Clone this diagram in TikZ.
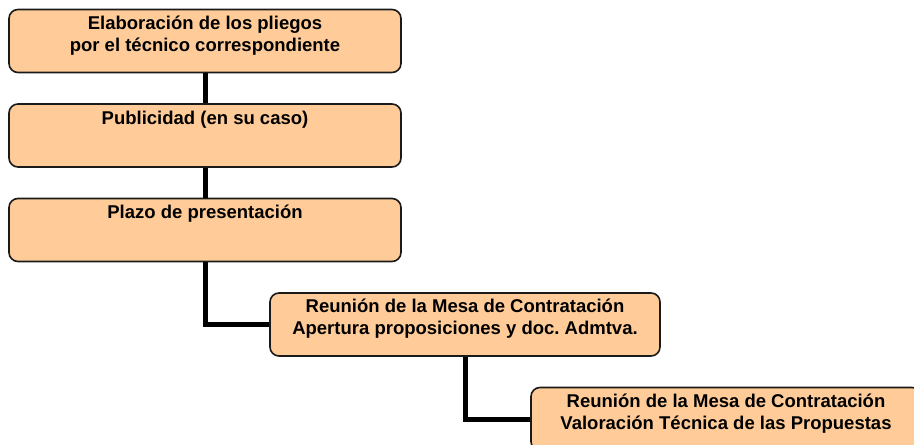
\documentclass[tikz,border=0pt]{standalone}
\usepackage{fontspec}
\setmainfont{Liberation Sans}
\frenchspacing
\definecolor{peach}{HTML}{FFCC99}
\definecolor{edge}{HTML}{1A1A1A}
\begin{document}
\begin{tikzpicture}[x=1bp,y=-1bp,
  box/.style={draw=edge,line width=1.6bp,fill=peach,rounded corners=9bp,minimum height=63bp,inner sep=0pt},
  txt/.style={font=\bfseries\fontsize{18.5bp}{22bp}\selectfont,align=center,inner sep=0pt},
  conn/.style={line width=5bp,black}]
\useasboundingbox (0,0) rectangle (914,445);
\clip (0,0) rectangle (914,445);
\fill[white] (0,0) rectangle (914,445);
\node[box,minimum width=392bp] (b1) at (205,41) {};
\node[box,minimum width=392bp] (b2) at (205,135.5) {};
\node[box,minimum width=392bp] (b3) at (205,230) {};
\node[box,minimum width=390bp] (b4) at (465,324.5) {};
\node[box,minimum width=390bp] (b5) at (726,419) {};
\draw[conn] (b1.south) -- (b2.north);
\draw[conn] (b2.south) -- (b3.north);
\draw[conn] (b3.south) |- (b4.west);
\draw[conn] (b4.south) |- (b5.west);
\node[txt] (t1) at (205,36) {\frenchspacing Elaboración de los pliegos\\por el técnico correspondiente};
\node[txt] (t2) at (205,120) {Publicidad (en su caso)};
\node[txt] (t3) at (205,214) {Plazo de presentación};
\node[txt] (t4) at (465,319) {\frenchspacing Reunión de la Mesa de Contratación\\Apertura proposiciones y doc. Admtva.};
\node[txt] (t5) at (726,414) {\frenchspacing Reunión de la Mesa de Contratación\\Valoración Técnica de las Propuestas};
\end{tikzpicture}
\end{document}
